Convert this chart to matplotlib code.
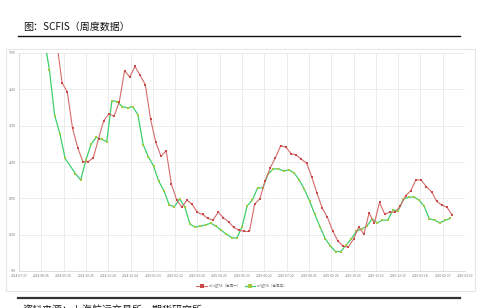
import numpy as np
import pandas as pd
import matplotlib
matplotlib.use("Agg")
import matplotlib.pyplot as plt
import matplotlib.dates as mdates
from matplotlib.lines import Line2D

plt.rcParams['font.family'] = ['Noto Sans CJK SC', 'DejaVu Sans']

# --- data ---
# SCFIS Europe (Mondays); the first points sit above the 3750 axis top and are clipped
red_start = "2024-09-02"
red_values = [4450, 4150, 3880,
              3336, 3216, 2715, 2447, 2254, 2254, 2309, 2572, 2820, 2912,
              2881, 3082, 3506, 3419, 3565, 3441, 3313, 2839, 2522, 2330,
              2406, 1946, 1730, 1629, 1726, 1666, 1556, 1528, 1473, 1450,
              1560, 1481, 1426, 1349, 1312, 1294, 1294, 1670, 1744, 1988,
              2171, 2309, 2475, 2453, 2365, 2347, 2287, 2232, 2039, 1818,
              1615, 1487, 1302, 1164, 1091, 1081, 1187, 1357, 1256, 1550,
              1404, 1694, 1532, 1560, 1560, 1643, 1785, 1854, 2006, 2002,
              1909, 1840, 1708, 1657, 1625, 1515]

# SCFI Europe (Fridays); the Golden Week release 2024-10-04 is missing
green_start = "2024-08-16"
green_skip = ["2024-10-04"]
green_values = [4500, 4200, 3950,
                3510, 2889, 2641, 2301,
                2089, 2002, 2278, 2494, 2591, 2563, 2530, 3092, 3082, 3013,
                2995, 3013, 2899, 2489, 2323, 2195, 1984, 1854, 1661, 1633,
                1744, 1633, 1394, 1353, 1367, 1385, 1408, 1367, 1312, 1256,
                1211, 1201, 1357, 1647, 1726, 1895, 1895, 2084, 2153, 2158,
                2126, 2140, 2102, 2002, 1873, 1712, 1528, 1357, 1197, 1091,
                1018, 1018, 1105, 1192, 1298, 1330, 1367, 1468, 1413, 1450,
                1450, 1588, 1578, 1739, 1763, 1771, 1726, 1643, 1468, 1450,
                1413, 1445, 1473]

red_label = "scfis欧线（每周一）"
green_label = "scfi欧线（每周五）"
title = "图：SCFIS（周度数据）"
source = "资料来源：上海航运交易所，期货研究所"

x_start = pd.Timestamp("2024-07-27")
x_end = pd.Timestamp("2026-03-19")
y_ticks = [750, 1250, 1750, 2250, 2750, 3250, 3750]

red_dates = pd.date_range(red_start, periods=len(red_values), freq="7D")
green_dates = pd.date_range(green_start, periods=len(green_values) + len(green_skip), freq="7D")
green_dates = green_dates[~green_dates.isin(pd.to_datetime(green_skip))]

W, H = 485, 308
fig = plt.figure(figsize=(W / 100, H / 100), dpi=100)

# outer panel and decorative rules
fig.patches.append(plt.Rectangle((6 / W, 1 - 291 / H), 469 / W, 242 / H,
                                 transform=fig.transFigure, fill=False,
                                 edgecolor="#e6e6e6", linewidth=0.8))
fig.add_artist(Line2D([18 / W, 460 / W], [1 - 35.5 / H] * 2, color="#111111", linewidth=1.0))
fig.add_artist(Line2D([18 / W, 460 / W], [1 - 297.5 / H] * 2, color="#333333", linewidth=1.6))
fig.text(23 / W, 1 - 27 / H, title, fontsize=7.2, color="#111111", va="center", ha="left")
fig.text(23 / W, 1 - 310 / H, source, fontsize=7.2, color="#111111", va="center", ha="left")

ax = fig.add_axes([19 / W, 1 - 271 / H, 446 / W, 218 / H])
ax.plot(red_dates, red_values, color="#d56b6b", linewidth=0.8,
        marker="s", markersize=1.8, markerfacecolor="#c94848", markeredgewidth=0,
        label=red_label, zorder=3)
ax.plot(green_dates, green_values, color="#3ccf6a", linewidth=0.9,
        marker="s", markersize=1.8, markerfacecolor="#a8c83c", markeredgewidth=0,
        label=green_label, zorder=2)

ax.set_xlim(x_start, x_end)
ax.set_ylim(750, 3750)
ax.set_yticks(y_ticks)
ticks = pd.date_range(x_start, x_end, freq="30D")
ax.set_xticks(ticks)
ax.xaxis.set_major_formatter(mdates.DateFormatter("%Y-%m-%d"))
ax.tick_params(axis="both", length=0, labelsize=2.3, labelcolor="#777777", pad=2)
ax.grid(True, color="#ececec", linewidth=0.7)
ax.set_axisbelow(True)
for s in ["top", "right"]:
    ax.spines[s].set_visible(False)
for s in ["left", "bottom"]:
    ax.spines[s].set_color("#dddddd")
    ax.spines[s].set_linewidth(0.7)

ax.legend(loc="upper center", bbox_to_anchor=(0.5, -0.045), ncol=2, frameon=False,
          fontsize=2.6, handlelength=3, columnspacing=1.0, handletextpad=0.4,
          labelcolor="#777777", markerscale=1.3)

fig.savefig("out.png", dpi=100)
